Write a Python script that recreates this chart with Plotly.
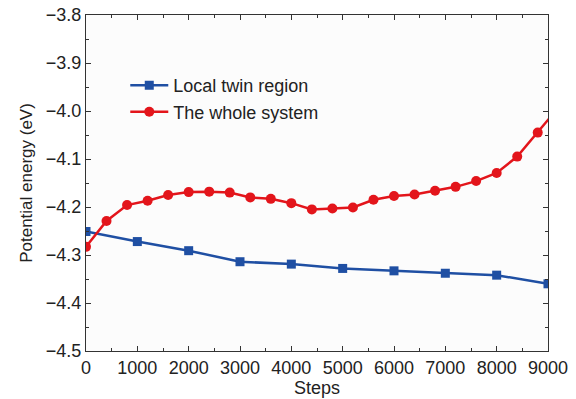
import plotly.graph_objects as go

# Data
local_steps = [0, 1000, 2000, 3000, 4000, 5000, 6000, 7000, 8000, 9000]
local_energy = [-4.251, -4.272, -4.291, -4.314, -4.319, -4.328, -4.333, -4.338, -4.342, -4.360]

whole_steps = [0, 400, 800, 1200, 1600, 2000, 2400, 2800, 3200, 3600, 4000, 4400,
               4800, 5200, 5600, 6000, 6400, 6800, 7200, 7600, 8000, 8400, 8800, 9200]
whole_energy = [-4.283, -4.229, -4.196, -4.187, -4.175, -4.169, -4.168, -4.170, -4.180,
                -4.183, -4.192, -4.205, -4.203, -4.201, -4.185, -4.177, -4.174, -4.166,
                -4.158, -4.146, -4.129, -4.095, -4.045, -3.993]

x_ticks = [0, 1000, 2000, 3000, 4000, 5000, 6000, 7000, 8000, 9000]
y_ticks = [-3.8, -3.9, -4.0, -4.1, -4.2, -4.3, -4.4, -4.5]

BLUE = "#1f4fa3"
RED = "#e3151b"
FONT = "Liberation Sans, Arial, sans-serif"
TXT = "#222222"

fig = go.Figure()
fig.add_trace(go.Scatter(
    x=local_steps, y=local_energy, mode="lines+markers", name="Local twin region",
    line=dict(color=BLUE, width=2.5),
    marker=dict(symbol="square", size=9, color=BLUE),
))
fig.add_trace(go.Scatter(
    x=whole_steps, y=whole_energy, mode="lines+markers", name="The whole system",
    line=dict(color=RED, width=2.5),
    marker=dict(symbol="circle", size=10, color=RED),
))

axis_common = dict(
    showline=True, linecolor="#333333", linewidth=1, mirror="ticks",
    ticks="inside", ticklen=5, tickwidth=1, tickcolor="#333333",
    showgrid=False, zeroline=False, automargin=False,
    ticklabeloverflow="allow",
    tickfont=dict(family=FONT, size=18, color=TXT),
)

fig.update_xaxes(
    range=[0, 9000], tickvals=x_ticks,
    minor=dict(ticks="inside", ticklen=3, tickcolor="#333333", dtick=500, tick0=0),
    title=dict(text="Steps", font=dict(family=FONT, size=18, color=TXT), standoff=0),
    **axis_common,
)
fig.update_yaxes(
    range=[-4.5, -3.8], tickvals=y_ticks, tickformat=".1f",
    minor=dict(ticks="inside", ticklen=3, tickcolor="#333333", dtick=0.05, tick0=-4.5),
    title=dict(text="Potential energy (eV)", font=dict(family=FONT, size=17, color=TXT), standoff=8),
    **axis_common,
)

fig.update_layout(
    width=576, height=399,
    margin=dict(l=86, r=28, t=15, b=48),
    paper_bgcolor="#ffffff", plot_bgcolor="#fcfcfc",
    showlegend=True,
    legend=dict(
        x=0.085, y=0.845, xanchor="left", yanchor="top",
        bgcolor="rgba(0,0,0,0)",
        font=dict(family=FONT, size=18, color=TXT),
        tracegroupgap=0, itemwidth=38,
    ),
)

# remove the default 8px page margin so the 576x399 figure fills the window
fig.write_html(
    "out.html",
    config={"displayModeBar": False},
    post_script="document.body.style.margin='0';",
)
